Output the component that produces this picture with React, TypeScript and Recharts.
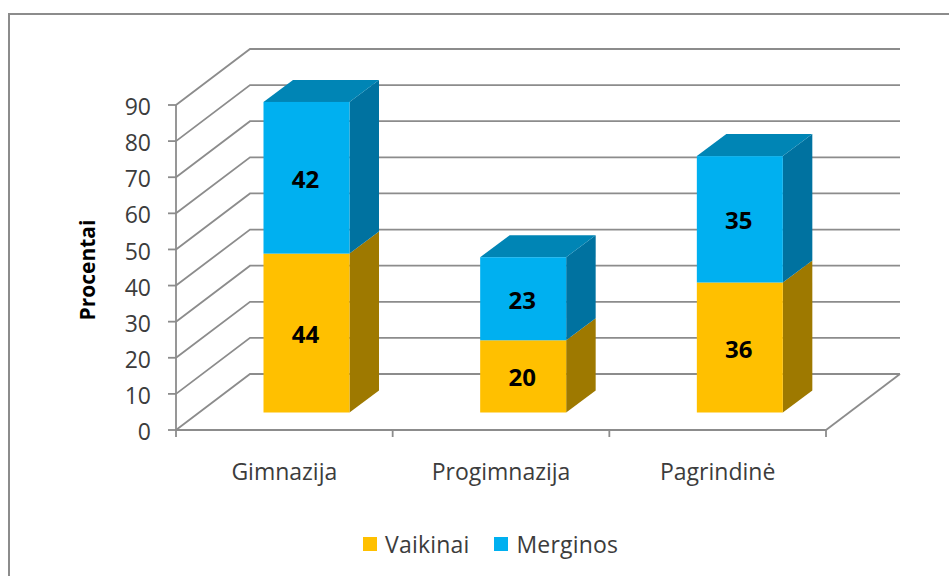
import { BarChart, Bar, XAxis, YAxis, CartesianGrid, Legend, LabelList } from 'recharts';

const categories = ['Gimnazija', 'Progimnazija', 'Pagrindinė'];
const vaikinai = [44, 20, 36];
const merginos = [42, 23, 35];
const yTicks = [0, 10, 20, 30, 40, 50, 60, 70, 80, 90];

const data = categories.map((name, i) => ({ name, vaikinai: vaikinai[i], merginos: merginos[i] }));

const WIDTH = 949;
const HEIGHT = 576;
const FONT = '"Open Sans", "Noto Sans", sans-serif';
const AXIS_COLOR = '#8c8c8c';
const TEXT_COLOR = '#3c3c3c';

// fake 3D: the wall sits behind the floor, bars stand partway in
const WALL_DX = 74;
const WALL_DY = -56;
const BAR_DX = 22.5;
const BAR_DY = -17.5;
const DEPTH_X = 29.5;
const DEPTH_Y = -22;

const PLOT_LEFT = 176;
const PLOT_RIGHT = 826;
const PLOT_TOP = 105;
const PLOT_BOTTOM = 429;
const BAND = (PLOT_RIGHT - PLOT_LEFT) / categories.length;

function WallLine(props: any) {
  const { x1, x2, y1 } = props;
  const backY = y1 + WALL_DY;
  const isFloor = y1 >= PLOT_BOTTOM - 1;
  return (
    <g fill="none" stroke={AXIS_COLOR} strokeWidth={1.8}>
      <polyline points={`${x1},${y1} ${x1 + WALL_DX},${backY} ${x2 + WALL_DX},${backY}`} />
      {isFloor && <line x1={x2} y1={y1} x2={x2 + WALL_DX} y2={backY} />}
    </g>
  );
}

function Box3D(props: any) {
  const { x, y, width, height, front, side, top } = props;
  const l = x + BAR_DX;
  const r = l + width;
  const t = y + BAR_DY;
  const b = t + height;
  return (
    <g>
      <polygon points={`${r},${t} ${r + DEPTH_X},${t + DEPTH_Y} ${r + DEPTH_X},${b + DEPTH_Y} ${r},${b}`} fill={side} />
      {top && (
        <polygon points={`${l},${t} ${l + DEPTH_X},${t + DEPTH_Y} ${r + DEPTH_X},${t + DEPTH_Y} ${r},${t}`} fill={top} />
      )}
      <rect x={l} y={t} width={width} height={height} fill={front} />
    </g>
  );
}

function BoxLabel(props: any) {
  const { x, y, width, height, value } = props;
  return (
    <text
      x={x + BAR_DX + width / 2 - 1}
      y={y + BAR_DY + height / 2 + 0.5}
      textAnchor="middle"
      dominantBaseline="central"
      fontFamily={FONT}
      fontWeight={700}
      fontSize={24}
      fill="#000"
    >
      {value}
    </text>
  );
}

function CategoryTick(props: any) {
  const { x, y, payload, index } = props;
  return (
    <g>
      {index === 0 && <line x1={x - BAND / 2} x2={x - BAND / 2} y1={PLOT_BOTTOM} y2={PLOT_BOTTOM + 8} stroke={AXIS_COLOR} strokeWidth={1.8} />}
      <line x1={x + BAND / 2} x2={x + BAND / 2} y1={PLOT_BOTTOM} y2={PLOT_BOTTOM + 8} stroke={AXIS_COLOR} strokeWidth={1.8} />
      <text x={x} y={y + 42} textAnchor="middle" fontFamily={FONT} fontSize={23} fill={TEXT_COLOR}>
        {payload.value}
      </text>
    </g>
  );
}

function LegendRow(props: any) {
  return (
    <div style={{ display: 'flex', fontFamily: FONT, fontSize: 23, color: TEXT_COLOR }}>
      {props.payload.map((item: any) => (
        <div key={item.value} style={{ display: 'flex', alignItems: 'center', marginRight: 25 }}>
          <span style={{ width: 14, height: 14, background: item.color, marginRight: 8, display: 'block' }} />
          <span style={{ letterSpacing: 0.2 }}>{item.value}</span>
        </div>
      ))}
    </div>
  );
}

export default function App() {
  return (
    <div style={{ position: 'absolute', left: 0, top: 0, width: WIDTH, height: HEIGHT, overflow: 'hidden', background: '#fff' }}>
      <div style={{ position: 'absolute', left: 8, top: 13, width: WIDTH, height: HEIGHT, border: '2px solid #8c8c8c' }} />
      <div style={{ position: 'absolute', left: 0, top: 0 }}>
        <BarChart
          width={WIDTH}
          height={HEIGHT}
          data={data}
          barCategoryGap={130}
          margin={{ top: PLOT_TOP, right: WIDTH - PLOT_RIGHT, bottom: 0, left: 0 }}
        >
          <CartesianGrid vertical={false} horizontal={<WallLine />} />
          <XAxis
            dataKey="name"
            tick={<CategoryTick />}
            tickLine={false}
            interval={0}
            height={HEIGHT - PLOT_BOTTOM - 33}
            axisLine={{ stroke: AXIS_COLOR, strokeWidth: 1.8 }}
          />
          <YAxis
            width={PLOT_LEFT}
            domain={[0, 90]}
            ticks={yTicks}
            interval={0}
            tickSize={8}
            tickMargin={17}
            axisLine={{ stroke: AXIS_COLOR, strokeWidth: 1.8 }}
            tickLine={{ stroke: AXIS_COLOR, strokeWidth: 1.8 }}
            tick={{ fontFamily: FONT, fontSize: 23, fill: TEXT_COLOR, dy: 2 }}
            label={{
              value: 'Procentai',
              angle: -90,
              position: 'insideLeft',
              dx: 83,
              dy: 53,
              style: { fontFamily: FONT, fontWeight: 700, fontSize: 21, fill: '#000' },
            }}
          />
          <Legend
            content={<LegendRow />}
            verticalAlign="bottom"
            align="left"
            itemSorter={null}
            wrapperStyle={{ left: 363, bottom: 16, width: 300, height: 32 }}
          />
          <Bar
            dataKey="vaikinai"
            name="Vaikinai"
            stackId="a"
            fill="#FFC000"
            barSize={86}
            isAnimationActive={false}
            shape={<Box3D front="#FFC000" side="#9E7900" />}
          >
            <LabelList dataKey="vaikinai" content={<BoxLabel />} />
          </Bar>
          <Bar
            dataKey="merginos"
            name="Merginos"
            stackId="a"
            fill="#00B0F0"
            barSize={86}
            isAnimationActive={false}
            shape={<Box3D front="#00B0F0" side="#0072A0" top="#0085B5" />}
          >
            <LabelList dataKey="merginos" content={<BoxLabel />} />
          </Bar>
        </BarChart>
      </div>
    </div>
  );
}
